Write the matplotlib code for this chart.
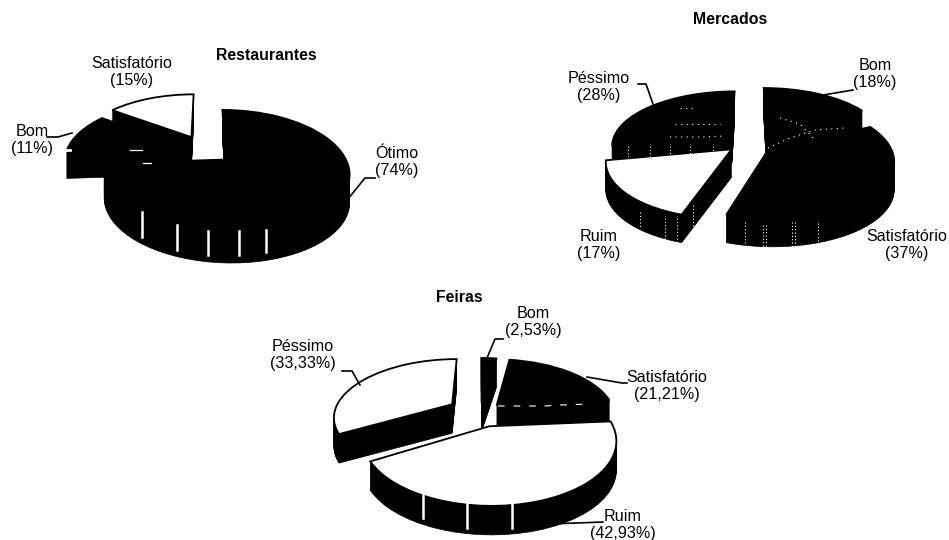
import numpy as np
import matplotlib
matplotlib.use("Agg")
import matplotlib.pyplot as plt
from matplotlib.transforms import Transform, Affine2D

plt.rcParams['font.family'] = ['Liberation Sans', 'DejaVu Sans']

W, H = 949, 540

rest_labels = ['Ótimo\n(74%)', 'Bom\n(11%)', 'Satisfatório\n(15%)']
rest_values = [74, 11, 15]
merc_labels = ['Bom\n(18%)', 'Satisfatório\n(37%)', 'Ruim\n(17%)', 'Péssimo\n(28%)']
merc_values = [18, 37, 17, 28]
feir_labels = ['Bom\n(2,53%)', 'Satisfatório\n(21,21%)', 'Ruim\n(42,93%)', 'Péssimo\n(33,33%)']
feir_values = [2.53, 21.21, 42.93, 33.33]


class Persp(Transform):
    input_dims = 2
    output_dims = 2

    def __init__(self, p):
        super().__init__()
        self.p = p

    def transform_non_affine(self, xy):
        xy = np.asarray(xy)
        w = 1 + self.p * xy[:, 1]
        return np.column_stack((xy[:, 0] / w, xy[:, 1] / w))


def pie3d(fig, values, explode, tops, cx, cy, rx, ry, p, depth):
    ax = fig.add_axes([(cx - rx) / W, 1 - (cy + ry) / H, 2 * rx / W, 2 * ry / H])
    for k in np.arange(depth, 0, -1.0):
        t = Persp(p) + Affine2D().translate(0, -k / ry) + ax.transData
        ax.pie(values, explode=explode, startangle=90, counterclock=False,
               colors=['black'] * len(values),
               wedgeprops={'transform': t, 'edgecolor': 'black', 'linewidth': 0.5})
    t = Persp(p) + ax.transData
    ax.pie(values, explode=explode, startangle=90, counterclock=False, colors=tops,
           wedgeprops={'transform': t, 'edgecolor': 'black', 'linewidth': 1.3})
    ax.set_aspect('auto')
    ax.set_xlim(-1, 1)
    ax.set_ylim(-1, 1)
    ax.axis('off')
    return ax


fig = plt.figure(figsize=(W / 100, H / 100), dpi=100, facecolor='white')

pie3d(fig, rest_values, [0.24, 0.2, 0.27], ['black', 'black', 'white'],
      205, 150, 116, 56, 0.2, 28)
pie3d(fig, merc_values, [0.26, 0.2, 0.2, 0.2], ['black', 'black', 'white', 'black'],
      750, 142, 120, 54, 0.18, 28)
pie3d(fig, feir_values, [0.17, 0.2, 0.25, 0.28], ['black', 'black', 'white', 'white'],
      480, 412, 118, 57, 0.2, 29)

# overlay in pixel coords for text, leaders and the scan marks on the sides
ov = fig.add_axes([0, 0, 1, 1], zorder=5)
ov.set_xlim(0, W)
ov.set_ylim(H, 0)
ov.axis('off')
ov.patch.set_alpha(0)

fs = 11.6
for s, x, y in [('Restaurantes', 266, 56), ('Mercados', 730, 20), ('Feiras', 459, 298)]:
    ov.text(x, y, s, fontsize=fs - 0.2, fontweight='bold', ha='center', va='center')

label_pos = [
    (rest_labels[0], 397, 162), (rest_labels[1], 32, 140), (rest_labels[2], 132, 72),
    (merc_labels[0], 875, 74), (merc_labels[1], 907, 245), (merc_labels[2], 599, 245),
    (merc_labels[3], 599, 87),
    (feir_labels[0], 533, 322), (feir_labels[1], 667, 386), (feir_labels[2], 623, 525),
    (feir_labels[3], 303, 355),
]
for s, x, y in label_pos:
    ov.text(x, y, s, fontsize=fs, ha='center', va='center', linespacing=1.15)

leaders = [
    ([47, 58, 72], [137, 137, 133]),
    ([375, 365, 317], [178, 178, 237]),
    ([638, 646, 653], [84, 84, 104]),
    ([853, 823], [90, 95]),
    ([503, 495, 487], [339, 339, 358]),
    ([342, 352, 360], [371, 371, 385]),
    ([627, 622, 587], [383, 383, 377]),
    ([603, 550], [522, 524]),
]
for xs, ys in leaders:
    ov.plot(xs, ys, color='black', lw=1.2)

# white streaks on the pie sides
bars = [(142, 212, 237), (177, 225, 250), (208, 231, 255), (239, 231, 255), (266, 230, 252),
        (423, 495, 518), (467, 502, 528), (512, 502, 528)]
for x, y0, y1 in bars:
    ov.plot([x, x], [y0, y1], color='white', lw=1.8)

dots = [(628, 146, 157), (650, 146, 157), (670, 146, 157), (690, 146, 157), (713, 146, 157),
        (763, 225, 250), (766, 225, 250), (792, 222, 250), (795, 222, 250), (818, 223, 248),
        (640, 212, 228), (665, 218, 240), (677, 218, 244), (693, 205, 232), (745, 222, 250)]
for x, y0, y1 in dots:
    ov.plot([x, x], [y0, y1], color='white', lw=0.8, ls=(0, (1, 2)))

# speckle left by the scan on the Mercados faces
speck = [([670, 700, 725], [137, 137, 136]), ([675, 720], [124, 124]), ([680, 695], [108, 108]),
         ([768, 790, 815, 845], [148, 138, 130, 128]), ([780, 800, 815], [118, 124, 140])]
for xs, ys in speck:
    ov.plot(xs, ys, color='white', lw=0.8, ls=(0, (1, 4)))

ov.plot([498, 545, 560, 590], [406, 406, 405, 404], color='white', lw=0.8, ls=(0, (6, 8)))
ov.plot([63, 70], [150, 150], color='white', lw=2)
ov.plot([130, 142], [150, 150], color='white', lw=0.9)
ov.plot([143, 151], [163, 163], color='white', lw=0.9)

fig.savefig('out.png', dpi=100)
